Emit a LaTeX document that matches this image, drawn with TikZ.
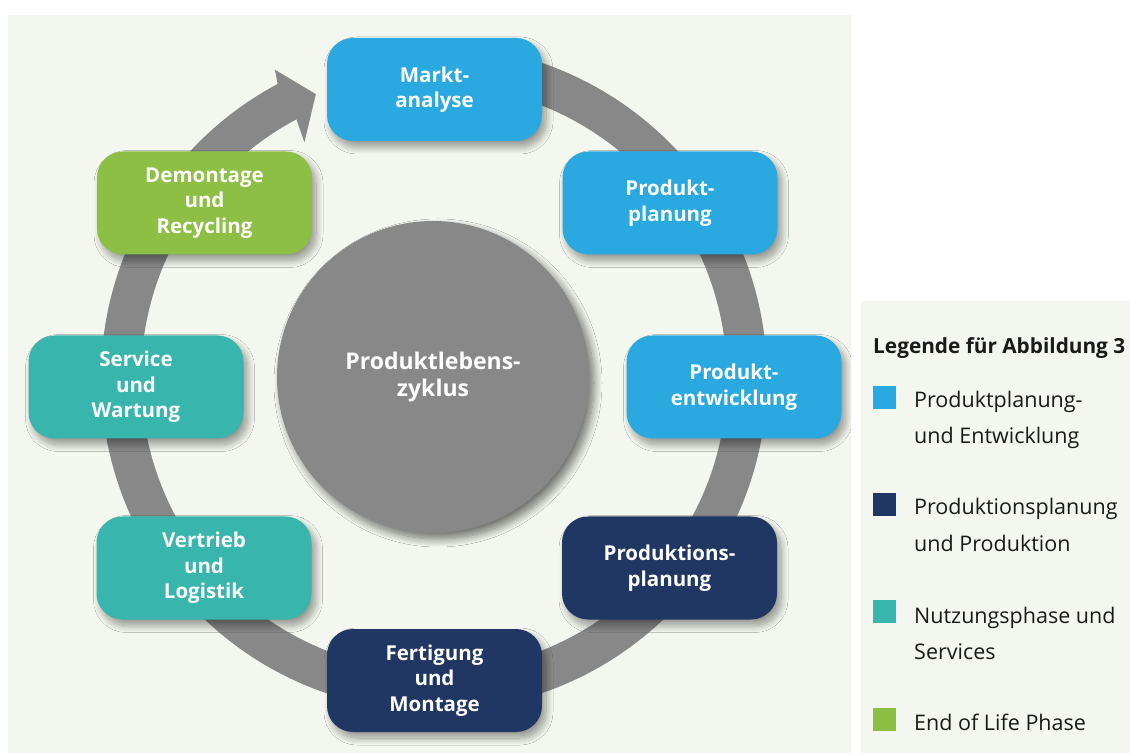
\documentclass[tikz,border=0pt]{standalone}
\usepackage{fontspec}
\setmainfont{Open Sans}
\usetikzlibrary{shadows.blur}

\definecolor{panelbg}{HTML}{F4F7EF}
\definecolor{phaseblue}{HTML}{29A9E0}
\definecolor{phasenavy}{HTML}{213763}
\definecolor{phaseteal}{HTML}{38B6AD}
\definecolor{phasegreen}{HTML}{8CBF44}
\definecolor{ringgray}{HTML}{888888}
\definecolor{legendtext}{HTML}{1A1A1A}

\begin{document}
\begin{tikzpicture}[x=1pt,y=1pt,
  phasebox/.style={rounded corners=26pt, minimum width=215pt, minimum height=103pt,
    inner sep=0pt, text=white, align=center,
    font=\fontsize{20.5}{25.5}\selectfont\bfseries,
    blur shadow={shadow xshift=4pt, shadow yshift=-6pt, shadow blur radius=7pt,
      shadow blur steps=14, shadow opacity=40}},
  hub/.style={circle, fill=ringgray, minimum size=312pt, inner sep=0pt, text=white,
    align=center, font=\fontsize{23}{26.5}\selectfont\bfseries,
    blur shadow={shadow xshift=5pt, shadow yshift=-6pt, shadow blur radius=8pt,
      shadow blur steps=14, shadow opacity=55}},
  swatch/.style={minimum size=23pt, inner sep=0pt, anchor=south west},
  legendline/.style={anchor=base west, inner sep=0pt, text=legendtext,
    font=\fontsize{21.5}{24}\selectfont},
  legendtitle/.style={anchor=base west, inner sep=0pt, text=legendtext,
    font=\fontsize{20.8}{24}\selectfont\bfseries}
]
\useasboundingbox (0,0) rectangle (1130,753);

% background panels
\fill[panelbg] (8,0) rectangle (851,738);
\fill[panelbg] (861,0) rectangle (1130,452);

% circular flow band with its arrowhead
\coordinate (ringc) at (434,375);
\begin{scope}[shift={(ringc)}]
  \draw[ringgray, line width=40pt] (95:313pt) arc[start angle=95, end angle=-243.5, radius=313pt];
  \fill[ringgray] (118:333pt) -- (117.3:347pt) -- (112.6:307.5pt) -- (118.8:269pt)
    -- (118:293pt) -- cycle;
\end{scope}

% centre
\node[hub] (hub) at (433,376) {Produktlebens-\\zyklus};

% phases
\node[phasebox, fill=phaseblue]  (markt)   at (434.5,663.5) {Markt-\\analyse};
\node[phasebox, fill=phaseblue]  (pplan)   at (670,550)     {Produkt-\\planung};
\node[phasebox, fill=phaseblue]  (pentw)   at (734,366)     {Produkt-\\entwicklung};
\node[phasebox, fill=phasenavy]  (prodpl)  at (669.5,185)   {Produktions-\\planung};
\node[phasebox, fill=phasenavy]  (fert)    at (434.5,72.5)  {Fertigung\\und\\Montage};
\node[phasebox, fill=phaseteal]  (vertr)   at (204,185)     {Vertrieb\\und\\Logistik};
\node[phasebox, fill=phaseteal]  (serv)    at (136,366)     {Service\\und\\Wartung};
\node[phasebox, fill=phasegreen] (demo)    at (204.5,550)   {Demontage\\und\\Recycling};

% legend
\node[legendtitle] (lgtitle) at (873,399) {Legende für Abbildung 3};

\node[swatch, fill=phaseblue]  (sw1) at (873,344) {};
\node[legendline] (lg1a) at (914,345) {Produktplanung-};
\node[legendline] (lg1b) at (914,309) {und Entwicklung};

\node[swatch, fill=phasenavy]  (sw2) at (873,237) {};
\node[legendline] (lg2a) at (914,238) {Produktionsplanung};
\node[legendline] (lg2b) at (914,201) {und Produktion};

\node[swatch, fill=phaseteal]  (sw3) at (873,130) {};
\node[legendline] (lg3a) at (914,130) {Nutzungsphase und};
\node[legendline] (lg3b) at (914,94)  {Services};

\node[swatch, fill=phasegreen] (sw4) at (873,22) {};
\node[legendline] (lg4a) at (914,23)  {End of Life Phase};
\end{tikzpicture}
\end{document}
